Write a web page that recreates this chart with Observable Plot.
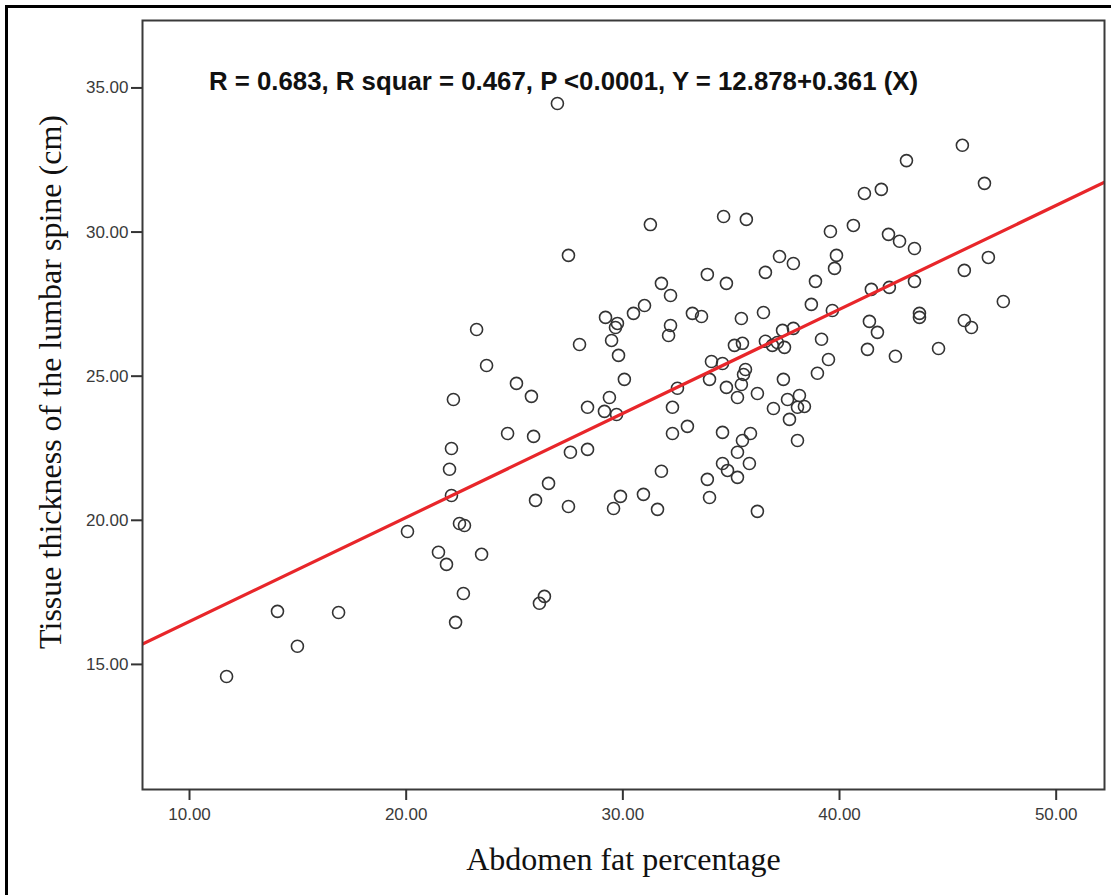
<!DOCTYPE html>
<html>
<head>
<meta charset="utf-8">
<script src="https://cdn.jsdelivr.net/npm/d3@7"></script>
<script src="https://cdn.jsdelivr.net/npm/@observablehq/plot@0.6"></script>
<style>
  html, body { margin: 0; padding: 0; background: #fff; overflow: hidden; }
  #wrap { position: relative; width: 1111px; height: 895px; }
  #chart { position: absolute; left: 0; top: 0; }
  #border { position: absolute; left: 5px; top: 5px; width: 1300px; height: 1100px;
            border-left: 3px solid #000; border-top: 3px solid #000; pointer-events: none; }
</style>
</head>
<body>
<div id="wrap"><div id="chart"></div><div id="border"></div></div>
<script>
// Abdomen fat percentage (x) and tissue thickness of the lumbar spine in cm (y)
const fatPercent = [
  11.71, 14.06, 14.98, 16.88, 20.06, 21.49, 21.86, 22.00, 22.09, 22.09,
  22.18, 22.28, 22.46, 22.69, 22.64, 23.25, 23.48, 23.71, 24.68, 25.09,
  25.78, 25.88, 25.97, 26.15, 26.38, 26.57, 26.98, 27.49, 27.49, 27.58,
  28.00, 28.37, 28.37, 29.20, 29.15, 29.38, 29.48, 29.57, 29.71, 29.75,
  29.66, 29.80, 29.89, 30.07, 30.49, 31.00, 30.95, 31.27, 31.60, 31.78,
  31.78, 32.20, 32.11, 32.20, 32.29, 32.29, 32.52, 32.98, 33.21, 33.63,
  33.90, 33.90, 34.00, 34.00, 34.09, 34.60, 34.60, 34.60, 34.65, 34.78,
  34.78, 34.83, 35.15, 35.29, 35.29, 35.29, 35.47, 35.47, 35.52, 35.57,
  35.66, 35.70, 35.52, 35.84, 35.89, 36.21, 36.21, 36.49, 36.58, 36.58,
  36.90, 36.95, 37.23, 37.37, 37.41, 37.46, 37.60, 37.69, 37.87, 37.87,
  38.06, 38.15, 38.06, 38.38, 38.70, 38.89, 38.98, 39.17, 39.49, 39.58,
  39.67, 39.77, 39.86, 40.64, 41.15, 41.29, 41.38, 41.47, 41.75, 41.93,
  42.26, 42.30, 42.58, 42.77, 43.09, 43.46, 43.46, 43.69, 43.69, 44.57,
  45.67, 45.76, 45.76, 46.09, 46.69, 46.87, 47.56, 37.13
];
const tissueThickness = [
  14.58, 16.84, 15.63, 16.80, 19.61, 18.89, 18.47, 21.77, 22.49, 20.86,
  24.19, 16.46, 19.89, 19.82, 17.46, 26.62, 18.82, 25.37, 23.01, 24.75,
  24.30, 22.91, 20.69, 17.12, 17.36, 21.28, 34.46, 29.19, 20.48, 22.36,
  26.10, 22.46, 23.92, 27.04, 23.78, 24.26, 26.24, 20.41, 23.67, 26.83,
  26.69, 25.72, 20.83, 24.89, 27.18, 27.45, 20.90, 30.26, 20.38, 21.70,
  28.22, 27.80, 26.41, 26.76, 23.92, 23.01, 24.58, 23.26, 27.18, 27.07,
  28.53, 21.42, 20.79, 24.89, 25.51, 25.44, 23.05, 21.97, 30.54, 28.22,
  24.61, 21.73, 26.07, 22.36, 24.26, 21.49, 24.71, 27.00, 26.14, 25.06,
  25.23, 30.44, 22.77, 21.97, 23.01, 20.31, 24.40, 27.21, 28.60, 26.21,
  26.07, 23.88, 29.15, 26.59, 24.89, 26.00, 24.19, 23.50, 28.91, 26.66,
  23.92, 24.33, 22.77, 23.95, 27.49, 28.29, 25.10, 26.28, 25.58, 30.02,
  27.28, 28.74, 29.19, 30.23, 31.34, 25.93, 26.90, 28.01, 26.52, 31.48,
  29.92, 28.08, 25.69, 29.68, 32.48, 29.43, 28.29, 27.18, 27.04, 25.96,
  33.01, 28.67, 26.93, 26.69, 31.69, 29.12, 27.59, 26.17
];
const xTicks = [10, 20, 30, 40, 50];
const yTicks = [15, 20, 25, 30, 35];
const xDomain = [7.83, 52.23];
const yDomain = [10.66, 37.34];
const intercept = 12.878;
const slope = 0.361;
const statsText = "R = 0.683, R squar = 0.467, P <0.0001, Y = 12.878+0.361 (X)";
const xLabel = "Abdomen fat percentage";
const yLabel = "Tissue thickness of the lumbar spine (cm)";

const points = fatPercent.map((x, i) => ({x, y: tissueThickness[i]}));
const fitLine = xDomain.map(x => ({x, y: intercept + slope * x}));

const sans = "'Liberation Sans', Arial, sans-serif";
const serif = "'Liberation Serif', 'Times New Roman', serif";

const chart = Plot.plot({
  width: 1111,
  height: 895,
  marginLeft: 142,
  marginRight: 7,
  marginTop: 20,
  marginBottom: 106,
  style: {fontFamily: sans, fontSize: "17px", color: "#3a3a3a", background: "transparent", overflow: "visible"},
  x: {domain: xDomain},
  y: {domain: yDomain},
  marks: [
    Plot.dot(points, {x: "x", y: "y", r: 6, stroke: "#333", strokeWidth: 1.6, fill: "none"}),
    Plot.line(fitLine, {x: "x", y: "y", stroke: "#e8262a", strokeWidth: 3.2, clip: true}),
    Plot.frame({stroke: "#3a3a3a", strokeWidth: 2}),
    Plot.axisX({ticks: xTicks, tickFormat: d => d.toFixed(2), tickSize: 11, tickPadding: 7,
                stroke: "#333", strokeWidth: 2, fill: "#3a3a3a", fontSize: 17, label: null}),
    Plot.axisY({ticks: yTicks, tickFormat: d => d.toFixed(2), tickSize: 11, tickPadding: 3,
                stroke: "#333", strokeWidth: 2, fill: "#3a3a3a", fontSize: 17, label: null}),
    Plot.text([statsText], {frameAnchor: "top", dx: -60, dy: 61, lineAnchor: "middle",
                fontWeight: "bold", fontSize: 25.8, fill: "#111", fontFamily: sans}),
    Plot.text([xLabel], {frameAnchor: "bottom", dy: 70, lineAnchor: "middle",
                fontSize: 32, fill: "#111", fontFamily: serif}),
    Plot.text([yLabel], {frameAnchor: "left", dx: -92, dy: -23, rotate: -90, lineAnchor: "middle",
                textAnchor: "middle", fontSize: 32, fill: "#111", fontFamily: serif})
  ]
});
document.getElementById("chart").appendChild(chart);
</script>
</body>
</html>
